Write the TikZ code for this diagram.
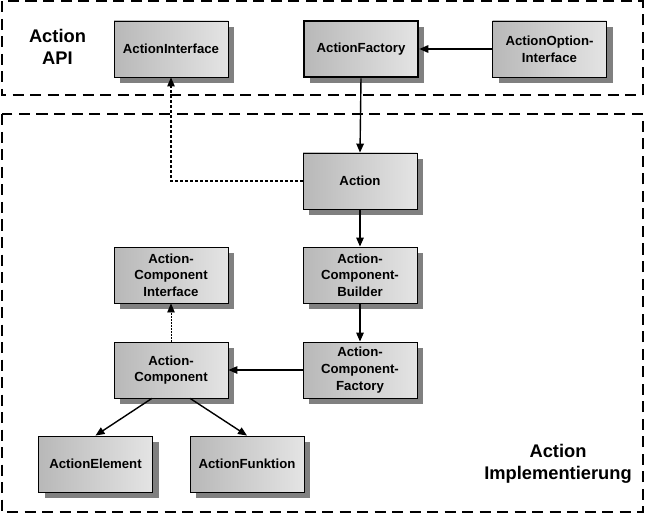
\documentclass[tikz,border=0pt]{standalone}
\usepackage{fontspec}
\setmainfont{Liberation Sans}
\usetikzlibrary{arrows.meta,shadows,calc}
\definecolor{boxL}{HTML}{B8B8B8}
\definecolor{boxR}{HTML}{E4E4E4}
\definecolor{shadowgray}{HTML}{808080}
\begin{document}
\begin{tikzpicture}[x=1pt,y=-1pt,
  cls/.style={rectangle,draw=black,line width=0.9pt,minimum width=114pt,minimum height=56pt,
    inner sep=0pt,align=center,left color=boxL,right color=boxR,
    font=\fontsize{13.2}{16.6}\selectfont\bfseries,
    drop shadow={shadow xshift=6pt,shadow yshift=-6pt,opacity=1,fill=shadowgray}},
  thickcls/.style={cls,line width=2.6pt},
  region/.style={draw=black,line width=2pt,dash pattern=on 11pt off 6.5pt},
  regionlabel/.style={align=center,font=\fontsize{18.3}{21.8}\selectfont\bfseries},
  arr/.style={line width=1.4pt,-{Triangle[length=9pt,width=7.5pt]}},
  dasharr/.style={line width=1.1pt,dash pattern=on 3pt off 2pt,-{Triangle[length=9pt,width=7.5pt]}},
  dotarr/.style={line width=0.9pt,dash pattern=on 1.5pt off 1.5pt,-{Triangle[length=9pt,width=7.5pt]}}]
\useasboundingbox (0,0) rectangle (645,513);
\fill[white] (0,0) rectangle (645,513);
% regions
\draw[region] (1.5,1.5) rectangle (642.5,95.5);
\draw[region] (1.5,114.5) rectangle (642.5,511.5);
\node[regionlabel] (apilabel) at (57.5,47) {Action\\API};
\node[regionlabel] (impllabel) at (558,464) {Action\\Implementierung};
% classes
\node[cls] (AI) at (171,49) {ActionInterface};
\node[thickcls] (AF) at (361,49) {ActionFactory};
\node[cls] (AOI) at (549.5,49) {ActionOption-\\Interface};
\node[cls] (A) at (360,181) {Action};
\node[cls] (ACI) at (171,275) {Action-\\Component\\Interface};
\node[cls] (ACB) at (360,275) {Action-\\Component-\\Builder};
\node[cls] (AC) at (171,370) {Action-\\Component};
\node[cls] (ACF) at (360,370) {Action-\\Component-\\Factory};
\node[cls] (AE) at (95.5,464) {ActionElement};
\node[cls] (AFk) at (247,464) {ActionFunktion};
% connectors
\draw[arr] (AOI.west) -- (AF.east);
\draw[arr] (AF.south) -- (A.north);
\draw[dasharr] (A.west) -| (AI.south);
\draw[arr] (A.south) -- (ACB.north);
\draw[arr] (ACB.south) -- (ACF.north);
\draw[arr] (ACF.west) -- (AC.east);
\draw[dotarr] (AC.north) -- (ACI.south);
\draw[arr] ($(AC.south west)!0.333!(AC.south east)$) -- (AE.north);
\draw[arr] ($(AC.south west)!0.667!(AC.south east)$) -- (AFk.north);
\end{tikzpicture}
\end{document}
